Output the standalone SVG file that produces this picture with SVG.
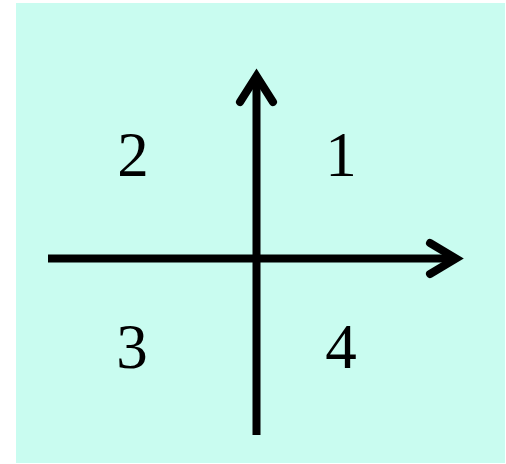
<svg xmlns="http://www.w3.org/2000/svg" width="506" height="464" viewBox="0 0 506 464">
<style>
.ax{stroke:#000;stroke-width:8;fill:none}
.hd{stroke:#000;stroke-width:8;fill:none;stroke-linecap:round;stroke-linejoin:miter}
.lb{font-family:"Liberation Serif","Times New Roman",serif;font-size:63px;fill:#000;text-anchor:middle}
</style>
<rect x="16" y="3" width="489" height="460" fill="#C9FCF0"/>
<g id="connectors">
<line class="ax" x1="48" y1="258.5" x2="452" y2="258.5"/>
<polyline class="hd" points="430,243 456,258.5 430,274"/>
<line class="ax" x1="256.5" y1="435" x2="256.5" y2="80"/>
<polyline class="hd" points="240,102 256.5,76 273,102"/>
</g>
<g id="q1"><text class="lb" x="341" y="176">1</text></g>
<g id="q2"><text class="lb" x="133" y="176">2</text></g>
<g id="q3"><text class="lb" x="132" y="368">3</text></g>
<g id="q4"><text class="lb" x="341" y="368">4</text></g>
</svg>
